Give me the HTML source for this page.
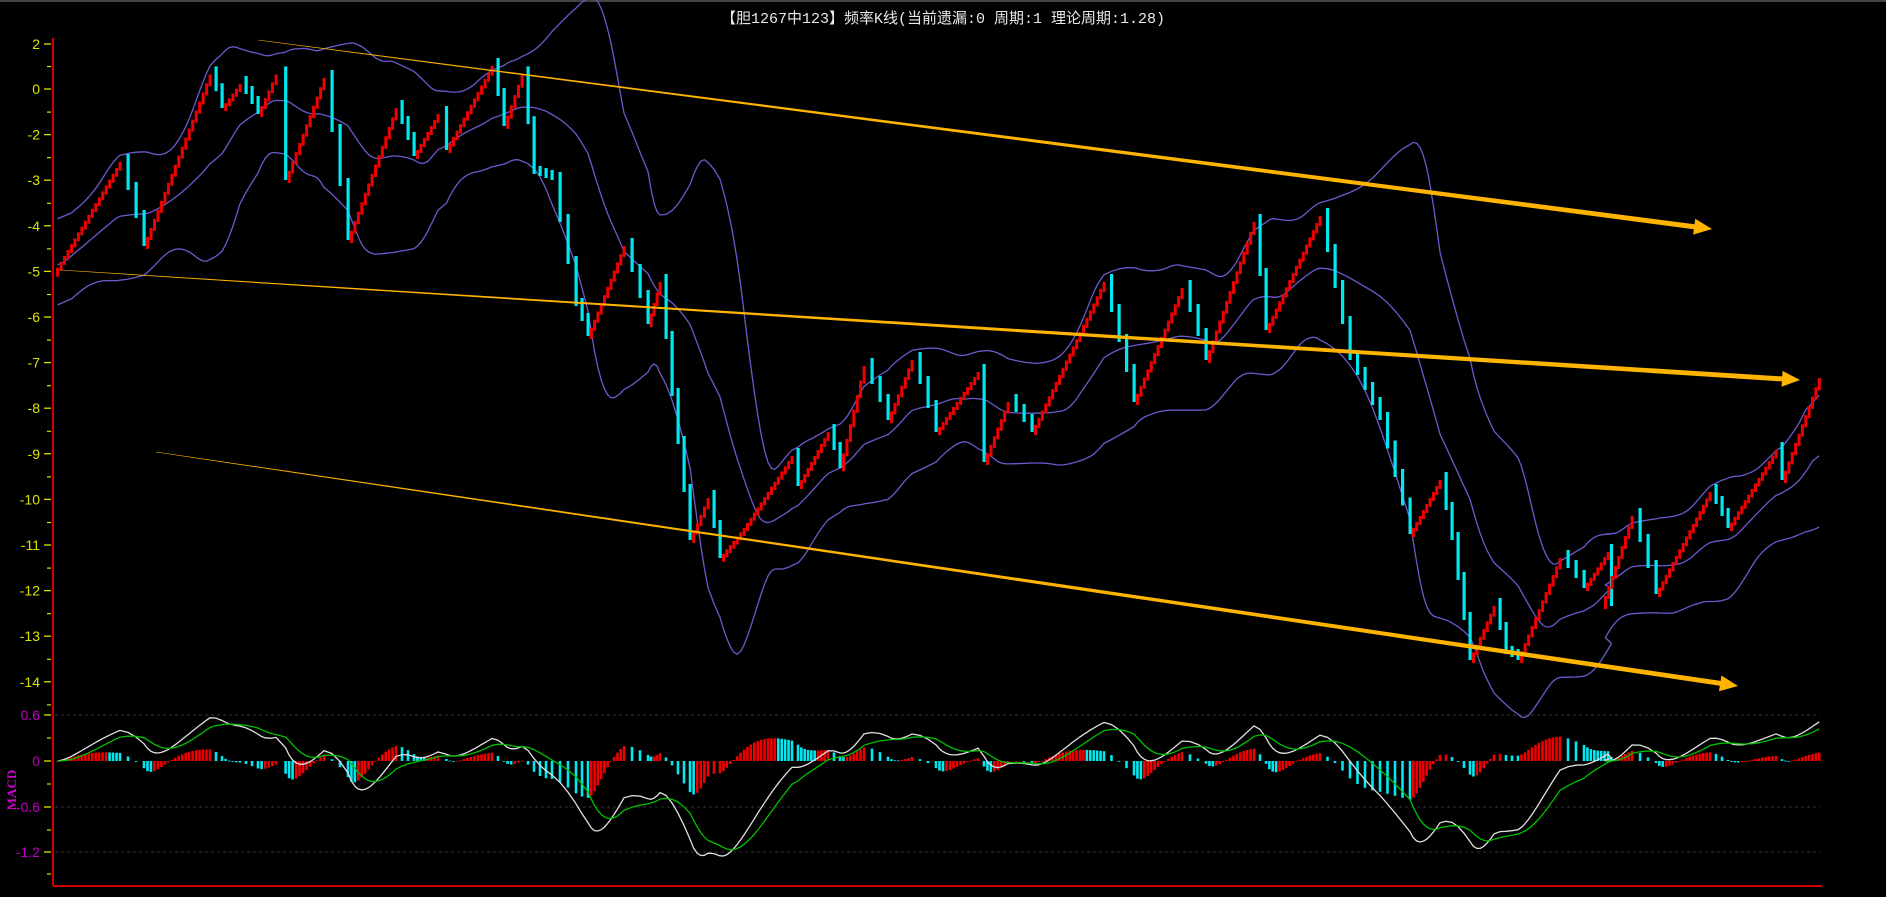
<!DOCTYPE html>
<html><head><meta charset="utf-8">
<style>
html,body{margin:0;padding:0;background:#000;width:1886px;height:897px;overflow:hidden}
svg{display:block}
</style></head>
<body>
<svg id="c" width="1886" height="897" viewBox="0 0 1886 897" xmlns="http://www.w3.org/2000/svg" font-family="Liberation Sans, sans-serif">
<rect width="1886" height="897" fill="#000"/>
<line x1="0" y1="1" x2="1886" y2="1" stroke="#444" stroke-width="2"/>
<text x="943" y="23" fill="#e8e8e8" font-size="15" text-anchor="middle" style="font-family:'Liberation Mono','Noto Sans CJK SC',monospace">【胆1267中123】频率K线(当前遗漏:0 周期:1 理论周期:1.28)</text>
<g id="axes"></g>
<g id="grid"></g>
<g id="bands"></g>
<g id="bricks"></g>
<g id="trend"></g>
<g id="macd"></g>
<text transform="translate(16,790) rotate(-90)" fill="#d000d0" font-size="13" font-weight="bold" text-anchor="middle" style="font-family:'Liberation Serif',serif">MACD</text>
</svg>
<script>
(function(){
var NS="http://www.w3.org/2000/svg";
function el(p,t,a){var e=document.createElementNS(NS,t);for(var k in a)e.setAttribute(k,a[k]);document.getElementById(p).appendChild(e);return e;}
el('axes','line',{x1:53,y1:38,x2:53,y2:886,stroke:'#d00000','stroke-width':2});
el('axes','line',{x1:53,y1:886,x2:1822,y2:886,stroke:'#d00000','stroke-width':2});
var labs=[['2',44],['0',89]];
for(var n=2;n<=14;n++)labs.push(['-'+n,89+(n-1)*45.6]);
labs.forEach(function(l){
  el('axes','line',{x1:44,y1:l[1],x2:51,y2:l[1],stroke:'#e0e000','stroke-width':1.3});
  var t=el('axes','text',{x:40,y:l[1]+5,fill:'#e0e000','font-size':14,'text-anchor':'end'});t.textContent=l[0];
});
for(var k=0;k<15;k++){var yy=66.5+k*45.6; el('axes','line',{x1:47,y1:yy,x2:51,y2:yy,stroke:'#e0e000','stroke-width':1.2});}
[['0.6',715],['0',761],['-0.6',807],['-1.2',852]].forEach(function(l){
  el('axes','line',{x1:44,y1:l[1],x2:51,y2:l[1],stroke:'#e0e000','stroke-width':1.3});
  var t=el('axes','text',{x:40,y:l[1]+5,fill:'#c000c0','font-size':14,'text-anchor':'end'});t.textContent=l[0];
  if(l[0]!='0')el('grid','line',{x1:55,y1:l[1],x2:1820,y2:l[1],stroke:'#333','stroke-width':1,'stroke-dasharray':'3,3'});
});
[738,784,830,874].forEach(function(y){el('axes','line',{x1:47,y1:y,x2:51,y2:y,stroke:'#e0e000','stroke-width':1.2});});

var W=[[45,228],[100,135],[120,205],[175,62],[185,90],[200,70],[215,95],[230,62],[238,150],[270,65],[290,200],[330,90],[345,130],[365,95],[372,125],[410,55],[420,105],[435,62],[445,145],[460,150],[480,255],[490,280],[520,205],[540,270],[550,235],[560,330],[575,450],[590,415],[600,465],[620,440],[660,380],[665,405],[690,360],[700,390],[720,305],[740,350],[760,300],[780,360],[815,310],[820,385],[840,335],[860,360],[920,235],[945,335],[985,240],[1005,300],[1045,185],[1055,275],[1100,180],[1125,300],[1150,350],[1175,445],[1200,400],[1210,450],[1225,550],[1245,505],[1255,545],[1265,550],[1300,465],[1320,490],[1340,460],[1335,505],[1360,430],[1380,495],[1425,410],[1440,440],[1480,375],[1485,400],[1516,315]];
W=W.map(function(p){return [p[0]*1.2,p[1]*1.2];});
var closes=[],xs=[];
for(var i=1;i<W.length;i++){
  var x0=W[i-1][0],y0=W[i-1][1],x1=W[i][0],y1=W[i][1],dx=Math.max(x1-x0,3.4);
  if(y1<y0){
    var n=Math.max(1,Math.round(dx/3.4)),h=(y0-y1)/n;
    for(var j=0;j<n;j++){var x=x0+(j+1)*dx/n;
      var ty=y0-(j+1)*h;
      el('bricks','rect',{x:x-1.4,y:ty,width:3,height:Math.max(h+3,8),fill:'#f00000'});
      closes.push(ty);xs.push(x);}
  } else {
    var n=Math.max(1,Math.round(dx/7)),h=(y1-y0)/n;
    for(var j=0;j<n;j++){var x=x0+(j+1)*dx/n;
      el('bricks','rect',{x:x-1.5,y:y0+j*h-8,width:3.2,height:h+8,fill:'#00e8f0'});
      closes.push(y0+(j+1)*h);xs.push(x);}
  }
}
var N=22,up=[],mid=[],lo=[];
for(var i=0;i<closes.length;i++){
  var s=Math.max(0,i-N+1),a=closes.slice(s,i+1),m=a.reduce(function(p,q){return p+q},0)/a.length;
  var v=a.reduce(function(p,q){return p+(q-m)*(q-m)},0)/a.length,sd=Math.sqrt(v);
  sd=Math.max(sd,20);
  mid.push(m);up.push(m-2*sd-3);lo.push(m+2*sd+3);
}
function smooth(a,k){var r=[];for(var i=0;i<a.length;i++){var s=0,c=0;for(var j=i-k;j<=i+k;j++){if(j>=0&&j<a.length){s+=a[j];c++;}}r.push(s/c);}return r;}
up=smooth(up,4);lo=smooth(lo,4);mid=smooth(mid,2);
function pl(arr,col,g,w){var d='';for(var i=0;i<arr.length;i++)d+=(i?'L':'M')+xs[i].toFixed(1)+','+arr[i].toFixed(1);el(g,'path',{d:d,fill:'none',stroke:col,'stroke-width':w||1.3});}
pl(up,'#6a5acd','bands');pl(mid,'#6a5acd','bands');pl(lo,'#6a5acd','bands');
function arrow(x0,y0,x1,y1,w0,w1){
  var dx=x1-x0,dy=y1-y0,L=Math.sqrt(dx*dx+dy*dy),ux=dx/L,uy=dy/L,nx=-uy,ny=ux;
  var ex=x1-ux*18,ey=y1-uy*18;
  var p=[[x0+nx*w0/2,y0+ny*w0/2],[ex+nx*w1/2,ey+ny*w1/2],[ex+nx*8,ey+ny*8],[x1,y1],[ex-nx*8,ey-ny*8],[ex-nx*w1/2,ey-ny*w1/2],[x0-nx*w0/2,y0-ny*w0/2]];
  el('trend','polygon',{points:p.map(function(q){return q[0].toFixed(1)+','+q[1].toFixed(1)}).join(' '),fill:'#ffb400'});
}
arrow(258,40,1712,229,0.6,5);
arrow(60,270,1800,380,0.6,5);
arrow(156,452,1738,686,0.6,5);
var p=closes.map(function(c){return -c;});
function ema(a,n){var r=[],k=2/(n+1);for(var i=0;i<a.length;i++)r.push(i?r[i-1]+k*(a[i]-r[i-1]):a[i]);return r;}
var e1=ema(p,12),e2=ema(p,26),dif=e1.map(function(v,i){return v-e2[i];}),dea=ema(dif,9);
var mx=0;dif.forEach(function(v){mx=Math.max(mx,Math.abs(v));});
var sc=95/mx;
var hist=dif.map(function(v,i){return (v-dea[i])*1.2;});
for(var i=0;i<hist.length;i++){
  var h=hist[i]*sc,col=(i>0&&hist[i]<hist[i-1])?'#00e8f0':'#f00000';
  el('macd','rect',{x:xs[i]-1.3,y:h>0?761-h:761,width:2.6,height:Math.max(Math.abs(h),0.8),fill:col});
}
pl(dif.map(function(v){return 761-v*sc;}),'#e0e0e0','macd',1.3);
pl(dea.map(function(v){return 761-v*sc;}),'#00c000','macd',1.3);
})();
</script>
</body></html>
